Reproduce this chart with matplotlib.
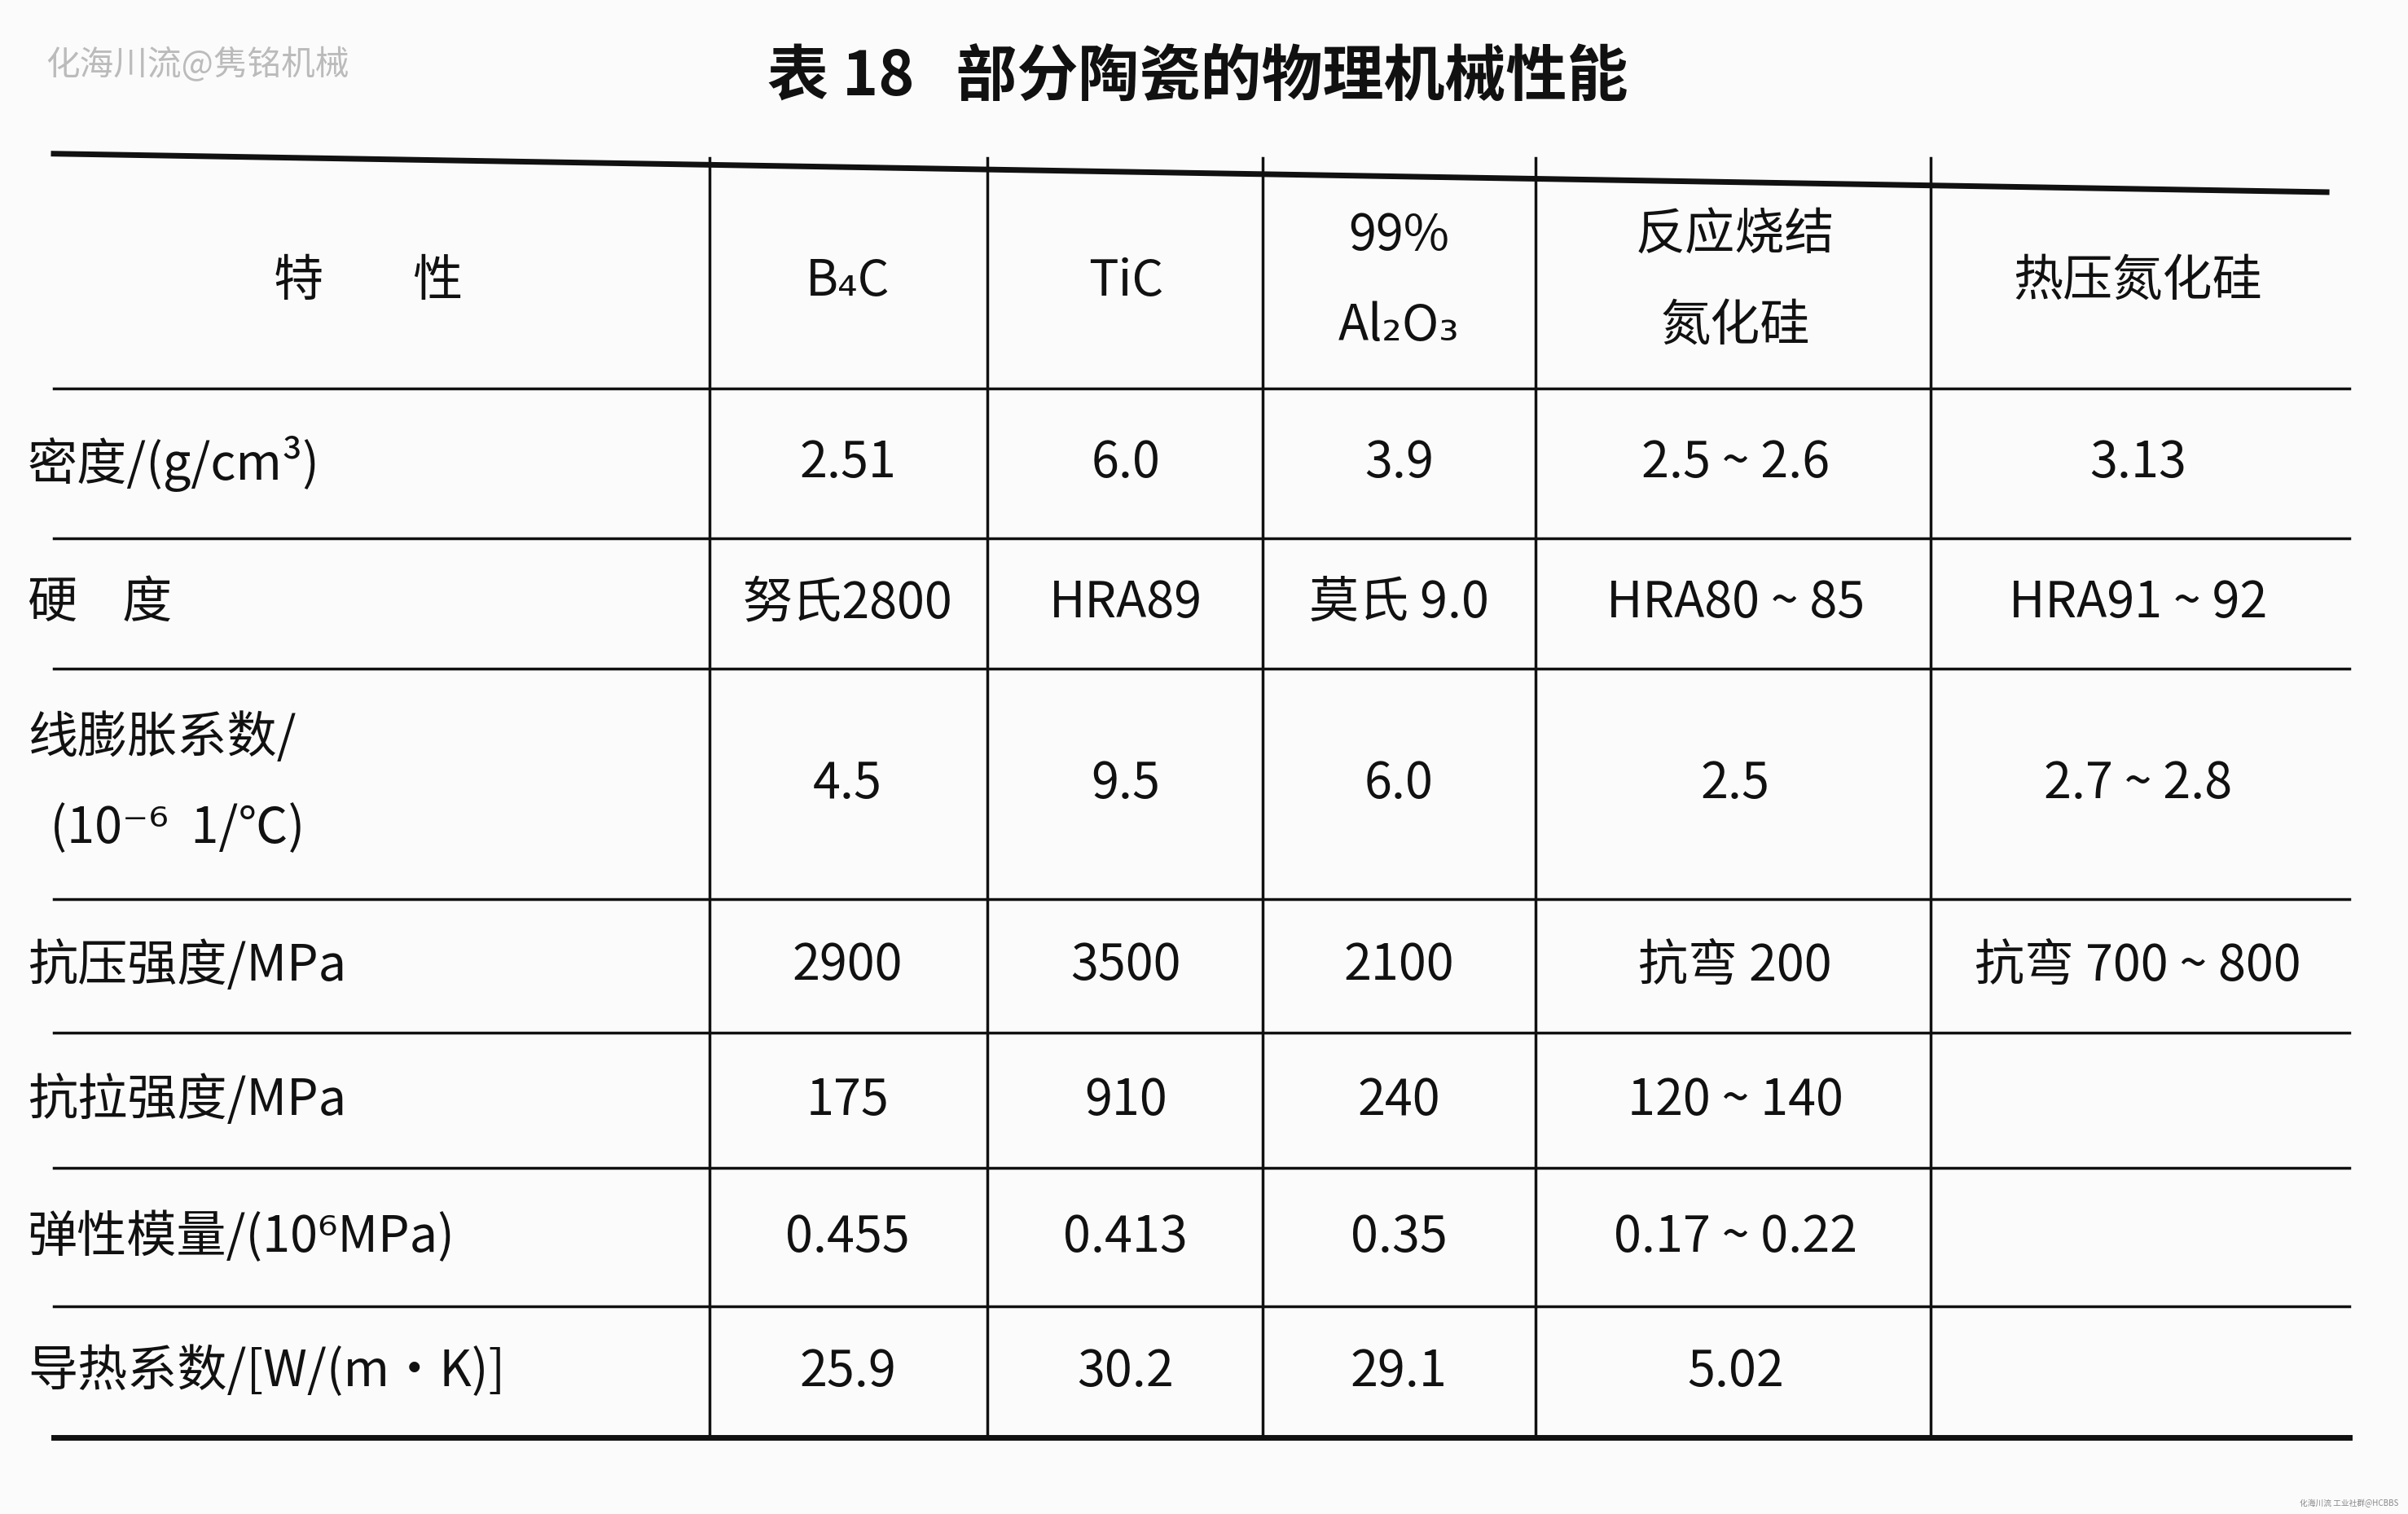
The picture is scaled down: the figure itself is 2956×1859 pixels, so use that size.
import matplotlib
matplotlib.use("Agg")
import matplotlib.pyplot as plt

plt.rcParams['font.family'] = ['Noto Sans CJK SC', 'DejaVu Sans']

title = "表 18   部分陶瓷的物理机械性能"
headers = ["特        性", "B₄C", "TiC", "99%\nAl₂O₃", "反应烧结\n氮化硅", "热压氮化硅"]
props = ["密度/(g/cm³)", "硬    度", "线膨胀系数/\n  (10⁻⁶  1/℃)", "抗压强度/MPa",
         "抗拉强度/MPa", "弹性模量/(10⁶MPa)", "导热系数/[W/(m·K)]"]
b4c = ["2.51", "努氏2800", "4.5", "2900", "175", "0.455", "25.9"]
tic = ["6.0", "HRA89", "9.5", "3500", "910", "0.413", "30.2"]
al2o3 = ["3.9", "莫氏 9.0", "6.0", "2100", "240", "0.35", "29.1"]
rbsn = ["2.5 ~ 2.6", "HRA80 ~ 85", "2.5", "抗弯 200", "120 ~ 140", "0.17 ~ 0.22", "5.02"]
hpsn = ["3.13", "HRA91 ~ 92", "2.7 ~ 2.8", "抗弯 700 ~ 800", "", "", ""]

W, H = 1568, 985
fig = plt.figure(figsize=(29.56, 18.59), dpi=100)
fig.patch.set_facecolor('#fbfbfb')
ax = fig.add_axes([0, 0, 1, 1])
ax.set_xlim(0, W); ax.set_ylim(H, 0); ax.axis('off')

hl = [103, 253, 350, 435, 585, 672, 760, 850, 935]
for i, y in enumerate(hl):
    lw = 5 if i in (0, len(hl) - 1) else 2.5
    ax.plot([35, 1515 if i == 0 else 1530], [y - 3 if i == 0 else y, y + 22 if i == 0 else y], color='#111', lw=lw)
vx = [462, 643, 822, 1000, 1257]
for x in vx:
    ax.plot([x, x], [103, 935], color='#111', lw=2.5)

colc = [(35 + 462) / 2, 552, 733, 911, 1130, 1392]
rowc = [(hl[i] + hl[i + 1]) / 2 for i in range(len(hl) - 1)]
fs = 44
for j, h in enumerate(headers):
    ax.text(colc[j] if j else 240, rowc[0] + 5, h, ha='center', va='center', fontsize=fs,
            linespacing=2.0, color='#111')
cols = [b4c, tic, al2o3, rbsn, hpsn]
for i, p in enumerate(props):
    y = rowc[i + 1]
    ax.text(18, y, p, ha='left', va='center', fontsize=fs, linespacing=2.0, color='#111')
    for j, c in enumerate(cols):
        ax.text(colc[j + 1], y, c[i], ha='center', va='center', fontsize=fs, color='#111')

ax.text(780, 50, title, ha='center', va='center', fontsize=54, fontweight='bold', color='#111')
ax.text(30, 42, "化海川流@隽铭机械", ha='left', va='center', fontsize=30, color='#bbbbbb')
ax.text(1562, 978, "化海川流 工业社群@HCBBS", ha='right', va='center', fontsize=7, color='#888')
fig.savefig("out.png", dpi=100, facecolor=fig.get_facecolor())
